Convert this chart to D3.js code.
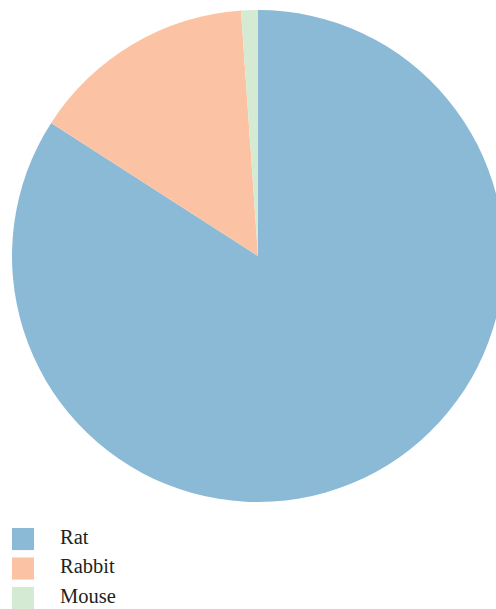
<!DOCTYPE html>
<html>
<head>
<meta charset="utf-8">
<script src="https://cdn.jsdelivr.net/npm/d3@7"></script>
<style>
  html, body { margin: 0; padding: 0; background: #fff; overflow: hidden; }
  svg { display: block; }
  .legend-label { font-family: "Liberation Serif", "Times New Roman", serif; font-size: 20.5px; }
</style>
</head>
<body>
<div id="chart"></div>
<script>
// species share (%)
const categories = ["Rat", "Rabbit", "Mouse"];
const values = [84.1, 14.8, 1.1];
const colors = ["#8bbad7", "#fcc2a4", "#d5ead3"];

const width = 496;
const height = 609;
const cx = 258, cy = 256, radius = 246;

const svg = d3
  .select("#chart")
  .append("svg")
  .attr("width", width)
  .attr("height", height);

const data = categories.map((c, i) => ({ name: c, value: values[i] }));

const pie = d3.pie().sort(null).value((d) => d.value);
const arc = d3.arc().innerRadius(0).outerRadius(radius);
const color = d3.scaleOrdinal().domain(categories).range(colors);

svg
  .append("g")
  .attr("transform", `translate(${cx},${cy})`)
  .selectAll("path")
  .data(pie(data))
  .enter()
  .append("path")
  .attr("d", arc)
  .attr("fill", (d) => color(d.data.name));

// ── legend ──
const y = d3.scaleBand().domain(categories).range([528, 609]).paddingInner(0.25).paddingOuter(0);

const legend = svg
  .append("g")
  .selectAll("g")
  .data(categories)
  .enter()
  .append("g")
  .attr("transform", (d) => `translate(0,${y(d)})`);

legend
  .append("rect")
  .attr("x", 12)
  .attr("width", 22)
  .attr("height", y.bandwidth())
  .attr("fill", (d) => color(d));

legend
  .append("text")
  .attr("class", "legend-label")
  .attr("x", 60)
  .attr("y", 16)
  .attr("fill", "#231f20")
  .text((d) => d);
</script>
</body>
</html>
